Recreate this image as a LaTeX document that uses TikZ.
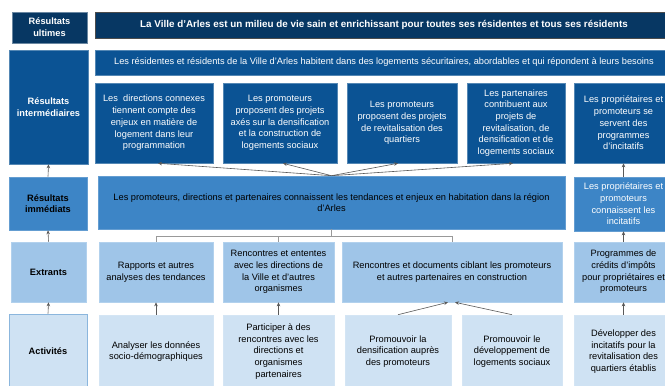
\documentclass[tikz,border=0pt]{standalone}
\usepackage{fontspec}
\setmainfont{Liberation Sans}
\usetikzlibrary{arrows.meta,calc}
\definecolor{cUlt}{HTML}{073763}
\definecolor{cInt}{HTML}{0B5394}
\definecolor{cImm}{HTML}{3D85C6}
\definecolor{cExt}{HTML}{9FC5E8}
\definecolor{cAct}{HTML}{CFE2F3}
\definecolor{cArr}{HTML}{595959}
\definecolor{cLine}{HTML}{999999}
\tikzset{
  box/.style={rectangle, inner sep=0pt, align=center, font=\fontsize{9.25}{11.7}\selectfont, line width=0.6pt},
  ultbox/.style={box, fill=cUlt, draw=cUlt!60!white, text=white},
  intbox/.style={box, fill=cInt, draw=cInt!70!white, text=white},
  immbox/.style={box, fill=cImm, draw=cImm!80!white, text=black},
  immwbox/.style={box, fill=cImm, draw=cImm!80!white, text=white},
  extbox/.style={box, fill=cExt, draw=cExt!80!white, text=black},
  actbox/.style={box, fill=cAct, draw=cAct!90!white, text=black},
  lbl/.style={font=\fontsize{9.25}{11.7}\selectfont\bfseries},
  arr/.style={draw=cArr, line width=0.6pt, -{Stealth[length=4pt,width=3.5pt]}},
  link/.style={draw=cLine, line width=0.8pt}
}
\begin{document}
\begin{tikzpicture}[x=1pt,y=-1pt]
\useasboundingbox (0,0) rectangle (665,386);
\clip (0,0) rectangle (665,386);
\fill[white] (0,0) rectangle (665,386);
% left column
\node[ultbox, lbl, minimum width=75, minimum height=31] (lu) at (49.5,27.5) {Résultats\\ultimes};
\node[intbox, lbl, minimum width=79, minimum height=114] (li) at (48.5,107) {Résultats\\intermédiaires};
\node[immbox, lbl, minimum width=78, minimum height=53] (lim) at (48,203.5) {Résultats\\immédiats};
\node[extbox, lbl, minimum width=75, minimum height=60] (le) at (48.5,272) {Extrants};
\node[actbox, lbl, draw=cImm!60!white, minimum width=78, minimum height=74] (la) at (48,351) {Activités};
% ultimate
\node[ultbox, draw=black!70, font=\fontsize{9.85}{11.7}\selectfont\bfseries, minimum width=578, minimum height=26] (ult) at (384,25) {La Ville d’Arles est un milieu de vie sain et enrichissant pour toutes ses résidentes et tous ses résidents};
% intermediate
\node[intbox, minimum width=578, minimum height=25] (res) at (384,62.5) {Les résidentes et résidents de la Ville d’Arles habitent dans des logements sécuritaires, abordables et qui répondent à leurs besoins};
\node[intbox, minimum width=118, minimum height=80] (i1) at (154,123) {Les~ directions connexes\\tiennent compte des\\enjeux en matière de\\logement dans leur\\programmation};
\node[intbox, minimum width=114, minimum height=80] (i2) at (280,123) {Les promoteurs\\proposent des projets\\axés sur la densification\\et la construction de\\logements sociaux};
\node[intbox, minimum width=110, minimum height=80] (i3) at (402,123) {Les promoteurs\\proposent des projets\\de revitalisation des\\quartiers};
\node[intbox, minimum width=98, minimum height=80] (i4) at (516,123) {Les partenaires\\contribuent aux\\projets de\\revitalisation, de\\densification et de\\logements sociaux};
\node[intbox, minimum width=99, minimum height=80] (i5) at (623.5,123) {Les propriétaires et\\promoteurs se\\servent des\\programmes\\d’incitatifs};
% immediate
\node[immbox, minimum width=467, minimum height=53] (m1) at (331.5,202.5) {Les promoteurs, directions et partenaires connaissent les tendances et enjeux en habitation dans la région\\d’Arles};
\node[immwbox, minimum width=99, minimum height=54] (m2) at (623.5,204) {Les propriétaires et\\promoteurs\\connaissent les\\incitatifs};
% extrants
\node[extbox, minimum width=114, minimum height=60] (e1) at (156,272) {Rapports et autres\\analyses des tendances};
\node[extbox, minimum width=111, minimum height=60] (e2) at (278.5,272) {Rencontres et ententes\\avec les directions de\\la Ville et d’autres\\organismes};
\node[extbox, minimum width=220, minimum height=60] (e3) at (452,272) {Rencontres et documents ciblant les promoteurs\\et autres partenaires en construction};
\node[extbox, minimum width=99, minimum height=60] (e4) at (623.5,272) {Programmes de\\crédits d’impôts\\pour propriétaires et\\promoteurs};
% activities
\node[actbox, minimum width=114, minimum height=73] (a1) at (156,351.5) {Analyser les données\\socio-démographiques};
\node[actbox, minimum width=111, minimum height=73] (a2) at (278.5,351.5) {Participer à des\\rencontres avec les\\directions et\\organismes\\partenaires};
\node[actbox, minimum width=106, minimum height=73] (a3) at (398,351.5) {Promouvoir la\\densification auprès\\des promoteurs};
\node[actbox, minimum width=100, minimum height=73] (a4) at (512,351.5) {Promouvoir le\\développement de\\logements sociaux};
\node[actbox, minimum width=99, minimum height=73] (a5) at (623.5,351.5) {Développer des\\incitatifs pour la\\revitalisation des\\quartiers établis};
% left arrows
\draw[arr] (lim.north) -- (li.south);
\draw[arr] (le.north) -- (lim.south);
\draw[arr] (la.north) -- (le.south);
% right arrows
\draw[arr] (m2.north) -- (i5.south);
\draw[arr] (e4.north) -- (m2.south);
\draw[arr] (a5.north) -- (e4.south);
% immediate -> intermediate
\draw[arr] (m1.north) -- ($(i1.south)+(4,0)$);
\draw[arr] (m1.north) -- ($(i2.south)+(3,0)$);
\draw[arr] (m1.north) -- ($(i3.south)+(-4,0)$);
\draw[arr] (m1.north) -- ($(i4.south)+(-3,0)$);
% extrants -> immediate
\draw[link] (m1.south) -- ++(0,7) coordinate (j);
\draw[link] (e1.north) |- (j) -| (e3.north);
\draw[link] (e2.north) -- (e2.north |- j);
% activities -> extrants
\draw[arr] (a1.north) -- (e1.south);
\draw[arr] (a2.north) -- (e2.south);
\draw[arr] (a3.north) -- ($(e3.south)+(-4,0)$);
\draw[arr] (a4.north) -- ($(e3.south)+(3,0)$);
\end{tikzpicture}
\end{document}
